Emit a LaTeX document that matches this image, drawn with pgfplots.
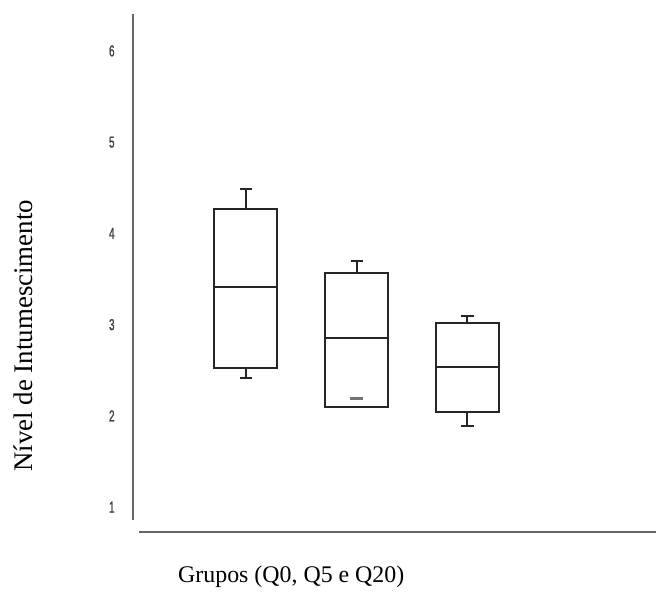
\documentclass[border=0pt]{standalone}
\usepackage{fontspec}
\setmainfont{Liberation Serif}
\newfontfamily\tickfont[FakeStretch=0.62, FakeBold=1.2]{Liberation Sans}
\usepackage{pgfplots}
\pgfplotsset{compat=1.18}
\usepgfplotslibrary{statistics}
\begin{document}
\begin{tikzpicture}
\begin{axis}[
  at={(0,0)}, anchor=south west,
  scale only axis,
  width=524bp, height=519bp,
  xmin=-0.02, xmax=4.70,
  ymin=0.726, ymax=6.405,
  axis x line=bottom, axis y line=left,
  axis line style={draw=none, -},
  clip=false,
  xtick=\empty,
  ytick={1,2,3,4,5,6},
  major tick length=0pt,
  tick style={draw=none},
  yticklabel style={anchor=center, xshift=-21bp, font=\tickfont\fontsize{16}{17}\selectfont, text=black!75},
  /pgf/number format/assume math mode=true,
  xlabel={Grupos (Q0, Q5 e Q20)},
  xlabel style={at={(axis description cs:0.303,-0.087)}, anchor=center, font=\fontsize{24}{28}\selectfont},
  ylabel={Nível de Intumescimento},
  ylabel style={at={(axis description cs:-0.210,0.379)}, anchor=center, font=\fontsize{27}{30}\selectfont},
  boxplot/draw direction=y,
  boxplot/box extend=0.57,
  boxplot/whisker extend=0.11,
]
\draw[black!60, line width=2.2bp] (axis cs:-0.02,0.858) -- (axis cs:-0.02,6.405);
\draw[black!60, line width=2.2bp] (axis cs:0.04,0.726) -- (axis cs:4.70,0.726);
\addplot[boxplot prepared={draw position=1, lower whisker=2.41, lower quartile=2.52, median=3.41, upper quartile=4.27, upper whisker=4.49}, draw=black!85, line width=2bp, solid] coordinates {};
\addplot[boxplot prepared={draw position=2, lower whisker=2.10, lower quartile=2.10, median=2.85, upper quartile=3.57, upper whisker=3.70}, draw=black!85, line width=2bp, solid] coordinates {};
\addplot[boxplot prepared={draw position=3, lower whisker=1.89, lower quartile=2.04, median=2.54, upper quartile=3.02, upper whisker=3.09}, draw=black!85, line width=2bp, solid] coordinates {};
\addplot[only marks, mark=-, mark size=6.5bp, mark options={draw=black!55, line width=2.5bp}] coordinates {(2,2.19)};
\end{axis}
\path[use as bounding box] (-133bp,-54bp) rectangle (524bp,533bp);
\end{tikzpicture}
\end{document}
